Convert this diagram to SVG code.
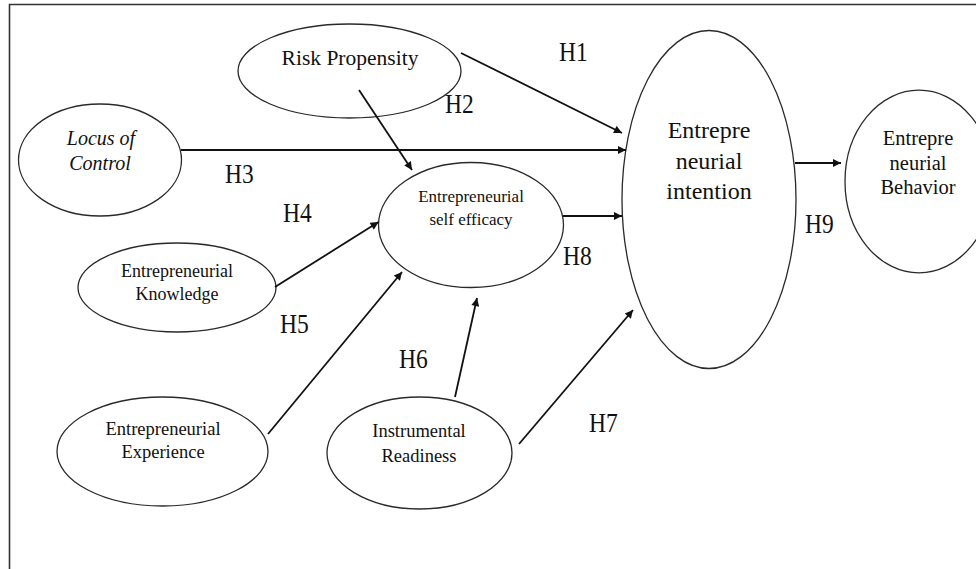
<svg xmlns="http://www.w3.org/2000/svg" width="976" height="569" viewBox="0 0 976 569">
<style>
  .node ellipse { fill: #ffffff; stroke: #2a2a2a; stroke-width: 1.3; }
  .lbl { font-family: "Liberation Serif", "Times New Roman", serif; fill: #111; text-anchor: middle; }
  .h { font-family: "Liberation Serif", "Times New Roman", serif; fill: #111; font-size: 28px; }
  .conn line { stroke: #111; stroke-width: 1.8; fill: none; }
</style>
<defs>
  <marker id="arr" viewBox="0 0 10 10" refX="10" refY="5" markerWidth="10" markerHeight="8" markerUnits="userSpaceOnUse" orient="auto">
    <path d="M0,0 L10,5 L0,10 z" fill="#111"/>
  </marker>
</defs>
<rect width="976" height="569" fill="#ffffff"/>
<path d="M9.5,569 L9.5,4.5 L976,4.5" fill="none" stroke="#333" stroke-width="1.6"/>

<g id="risk" class="node">
  <ellipse cx="349.5" cy="71" rx="111.5" ry="47"/>
  <text class="lbl" x="350" y="65" font-size="21.5">Risk Propensity</text>
</g>
<g id="locus" class="node">
  <ellipse cx="100" cy="160" rx="81.5" ry="56"/>
  <text class="lbl" x="101" y="145" font-size="20" font-style="italic">Locus of</text>
  <text class="lbl" x="100" y="170" font-size="20" font-style="italic">Control</text>
</g>
<g id="selfefficacy" class="node">
  <ellipse cx="471" cy="225" rx="92.5" ry="62.5"/>
  <text class="lbl" x="471" y="202" font-size="17">Entrepreneurial</text>
  <text class="lbl" x="471" y="225" font-size="17">self efficacy</text>
</g>
<g id="knowledge" class="node">
  <ellipse cx="177" cy="287.5" rx="99" ry="44.5"/>
  <text class="lbl" x="177" y="277" font-size="18">Entrepreneurial</text>
  <text class="lbl" x="177" y="300" font-size="18">Knowledge</text>
</g>
<g id="experience" class="node">
  <ellipse cx="162.5" cy="451.5" rx="105.5" ry="54.5"/>
  <text class="lbl" x="163" y="435" font-size="18.5">Entrepreneurial</text>
  <text class="lbl" x="163" y="458" font-size="18.5">Experience</text>
</g>
<g id="instrumental" class="node">
  <ellipse cx="419.5" cy="453" rx="92.5" ry="56"/>
  <text class="lbl" x="419" y="437" font-size="18.5">Instrumental</text>
  <text class="lbl" x="419" y="462" font-size="18.5">Readiness</text>
</g>
<g id="intention" class="node">
  <ellipse cx="709" cy="199.5" rx="87" ry="169"/>
  <text class="lbl" x="709" y="138" font-size="24">Entrepre</text>
  <text class="lbl" x="709" y="169" font-size="24">neurial</text>
  <text class="lbl" x="709" y="199" font-size="24">intention</text>
</g>
<g id="behavior" class="node">
  <ellipse cx="919" cy="181.5" rx="74" ry="91.3"/>
  <text class="lbl" x="918" y="145" font-size="20.5">Entrepre</text>
  <text class="lbl" x="918" y="170" font-size="20.5">neurial</text>
  <text class="lbl" x="918" y="194" font-size="20.5">Behavior</text>
</g>

<g id="connectors" class="conn">
  <line x1="461" y1="53" x2="622" y2="133" marker-end="url(#arr)"/>
  <line x1="359" y1="90" x2="412" y2="170" marker-end="url(#arr)"/>
  <line x1="181" y1="150" x2="626" y2="150" marker-end="url(#arr)"/>
  <line x1="275" y1="287" x2="378.5" y2="222" marker-end="url(#arr)"/>
  <line x1="268" y1="434" x2="402" y2="272" marker-end="url(#arr)"/>
  <line x1="455" y1="397" x2="477" y2="298" marker-end="url(#arr)"/>
  <line x1="519" y1="444" x2="633" y2="310" marker-end="url(#arr)"/>
  <line x1="563" y1="216" x2="622" y2="216" marker-end="url(#arr)"/>
  <line x1="795" y1="163" x2="841" y2="163" marker-end="url(#arr)"/>
</g>

<g id="labels">
  <text class="h" transform="translate(559,61) scale(0.84,1)">H1</text>
  <text class="h" transform="translate(445,113) scale(0.84,1)">H2</text>
  <text class="h" transform="translate(225,183) scale(0.84,1)">H3</text>
  <text class="h" transform="translate(283,222) scale(0.84,1)">H4</text>
  <text class="h" transform="translate(280,333) scale(0.84,1)">H5</text>
  <text class="h" transform="translate(399,368) scale(0.84,1)">H6</text>
  <text class="h" transform="translate(589,432) scale(0.84,1)">H7</text>
  <text class="h" transform="translate(563,265) scale(0.84,1)">H8</text>
  <text class="h" transform="translate(805,233) scale(0.84,1)">H9</text>
</g>
</svg>
